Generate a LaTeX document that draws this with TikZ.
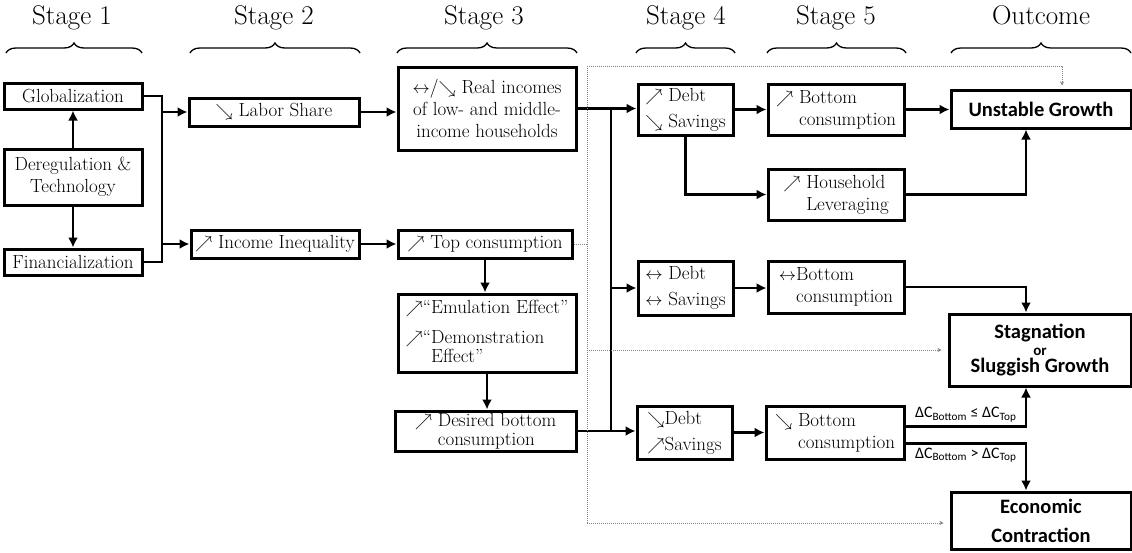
\documentclass[tikz,border=0pt]{standalone}
\usepackage{fontspec}
\newfontfamily\outfont{Carlito}
\usepackage{tikz}
\usetikzlibrary{arrows.meta, positioning, decorations.pathreplacing}

\newcommand{\arrUp}{$\nearrow$}
\newcommand{\arrDown}{$\searrow$}
\newcommand{\arrFlat}{$\leftrightarrow$}

\begin{document}
\begin{tikzpicture}[
    x=1pt, y=-1pt,
    font=\fontsize{19}{22}\selectfont,
    box/.style={draw, line width=3pt, align=center, inner sep=1pt},
    lbox/.style={box, align=left},
    outcome/.style={draw, line width=3pt, align=center, font=\outfont\bfseries\fontsize{20.5}{24}\selectfont},
    header/.style={anchor=base, font=\fontsize{27}{30}\selectfont},
    brace/.style={decorate, decoration={brace, amplitude=10pt}, line width=1.3pt},
    arrow/.style={-{Latex[length=10pt, width=10pt]}, line width=2.5pt},
    link/.style={line width=2.5pt},
    dots/.style={gray, line width=1pt, dash pattern=on 1pt off 1pt},
    cond/.style={font=\outfont\fontsize{16}{18}\selectfont, inner sep=3pt}
]
\useasboundingbox (0,0) rectangle (1132,552);

% Headers
\node[header] (h1) at (72,24) {Stage \oldstylenums{1}};
\node[header] (h2) at (274,24) {Stage \oldstylenums{2}};
\node[header] (h3) at (484,24) {Stage \oldstylenums{3}};
\node[header] (h4) at (686,24) {Stage \oldstylenums{4}};
\node[header] (h5) at (836,24) {Stage \oldstylenums{5}};
\node[header] (h6) at (1041,24) {Outcome};

% Braces
\draw[brace] (6,53) -- (142,53);
\draw[brace] (190,53) -- (360,53);
\draw[brace] (397,53) -- (577,53);
\draw[brace] (636,53) -- (735,53);
\draw[brace] (767,53) -- (906,53);
\draw[brace] (951,53) -- (1131,53);

% Stage 1
\node[box, minimum width=138pt, minimum height=26pt] (glob) at (73,96) {Globalization};
\node[box, minimum width=138pt, minimum height=56pt] (dereg) at (73,177) {Deregulation \&\\Technology};
\node[box, minimum width=138pt, minimum height=26pt] (fin) at (73,262) {Financialization};

% Stage 2
\node[box, minimum width=170pt, minimum height=28pt] (labor) at (274,112) {\arrDown{} Labor Share};
\node[box, minimum width=168pt, minimum height=28pt] (ineq) at (275,244) {\arrUp{} Income Inequality};

% Stage 3
\node[box, minimum width=178pt, minimum height=83pt] (realinc) at (487,108.5) {\arrFlat/\arrDown{} Real incomes\\of low- and middle-\\income households};
\node[box, minimum width=174pt, minimum height=28pt] (topcons) at (485,244) {\arrUp{} Top consumption};
\node[lbox, minimum width=178pt, minimum height=78pt] (emul) at (487,333) {\arrUp``Emulation Effect''\\[8pt]\arrUp``Demonstration\\[-3pt]\phantom{\arrUp``}Effect''};
\node[lbox, minimum width=181pt, minimum height=40pt] (desired) at (485.5,431) {\arrUp{} Desired bottom\\[-3pt]\phantom{\arrUp{} }consumption};

% Stage 4
\node[lbox, minimum width=95pt, minimum height=51pt] (debtup) at (685.5,109.5) {\arrUp{} Debt\\[4pt]\arrDown{} Savings};
\node[lbox, minimum width=95pt, minimum height=54pt] (debtflat) at (685.5,288) {\arrFlat{} Debt\\[4pt]\arrFlat{} Savings};
\node[lbox, minimum width=95pt, minimum height=53pt] (debtdown) at (684.5,432.5) {\arrDown Debt\\[4pt]\arrUp Savings};

% Stage 5
\node[lbox, minimum width=136pt, minimum height=51pt] (botup) at (836,109.5) {\arrUp{} Bottom\\\phantom{\arrUp{} }consumption};
\node[lbox, minimum width=136pt, minimum height=51pt] (lever) at (836,194.5) {\arrUp{} Household\\\phantom{\arrUp{} }Leveraging};
\node[lbox, minimum width=136pt, minimum height=52pt] (botflat) at (836,287) {\arrFlat Bottom\\\phantom{\arrFlat}consumption};
\node[lbox, minimum width=138pt, minimum height=53pt] (botdown) at (835,432.5) {\arrDown{} Bottom\\\phantom{\arrDown{} }consumption};

% Outcomes
\node[outcome, minimum width=180pt, minimum height=38pt] (unstable) at (1041,109) {Unstable Growth};
\node[outcome, minimum width=182pt, minimum height=72pt] (stag) at (1040,350) {Stagnation\\[-7pt]{\fontsize{15}{15}\selectfont or}\\[-7pt]Sluggish Growth};
\node[outcome, minimum width=180pt, minimum height=57pt] (contr) at (1041,520.5) {Economic\\[5pt]Contraction};

% Junctions
\coordinate (j1) at (162,0);
\coordinate (j2) at (611,0);
\coordinate (j3) at (1026,0);
\coordinate (dtop) at (587,66);
\coordinate (dbot) at (587,523);

% Stage 1 -> Stage 2
\draw[arrow] (dereg.north) -- (glob.south);
\draw[arrow] (dereg.south) -- (fin.north);
\draw[link] (glob.east) -| (j1 |- fin.east) -- (fin.east);
\draw[arrow] (j1 |- labor.west) -- (labor.west);
\draw[arrow] (j1 |- ineq.west) -- (ineq.west);

% Stage 2 -> Stage 3
\draw[arrow] (labor.east) -- (labor.east -| realinc.west);
\draw[arrow] (ineq.east) -- (ineq.east -| topcons.west);
\draw[arrow] (topcons.south) -- (topcons.south |- emul.north);
\draw[arrow] (emul.south) -- (emul.south |- desired.north);

% Stage 3 -> Stage 4
\draw[arrow] (realinc.east) -- (realinc.east -| debtup.west);
\draw[link] (j2 |- realinc.east) -- (j2 |- desired.east);
\draw[arrow] (j2 |- debtflat.west) -- (debtflat.west);
\draw[arrow] (desired.east) -- (desired.east -| debtdown.west);

% Stage 4 -> Stage 5
\draw[arrow] (debtup.east) -- (debtup.east -| botup.west);
\draw[arrow] (debtup.south) |- (lever.west);
\draw[arrow] (debtflat.east) -- (debtflat.east -| botflat.west);
\draw[arrow] (debtdown.east) -- (debtdown.east -| botdown.west);

% Stage 5 -> Outcome
\draw[arrow] (botup.east) -- (botup.east -| unstable.west);
\draw[arrow] (lever.east) -| (j3 |- unstable.south);
\draw[arrow] (botflat.east) -| (j3 |- stag.north);
\draw[arrow] ([yshift=6pt]botdown.east) -| node[cond, pos=0.25, above] {ΔC\textsubscript{Bottom} ≤ ΔC\textsubscript{Top}} (j3 |- stag.south);
\draw[arrow] ([yshift=-11pt]botdown.east) -| node[cond, pos=0.25, below] {ΔC\textsubscript{Bottom} > ΔC\textsubscript{Top}} (j3 |- contr.north);

% Dotted paths
\draw[dots] (topcons.east) -- (topcons.east -| dtop);
\draw[dots] (dtop) -- (dbot);
\draw[dots, -{Stealth[length=4pt, width=4pt]}, shorten >=3pt] (dtop) -| ([xshift=21pt]unstable.north);
\draw[dots, -{Stealth[length=4pt, width=4pt]}, shorten >=6pt] (dtop |- stag.west) -- (stag.west);
\draw[dots, -{Stealth[length=4pt, width=4pt]}, shorten >=6pt] (dbot) -- (dbot -| contr.west);

\end{tikzpicture}
\end{document}
